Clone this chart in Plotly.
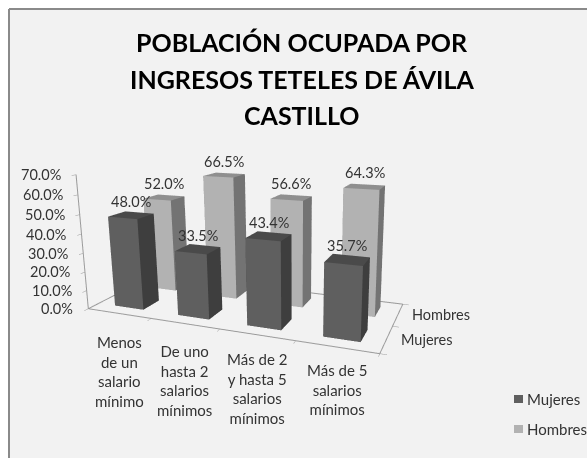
import plotly.graph_objects as go

categories = ["Menos<br>de un<br>salario<br>mínimo", "De uno<br>hasta 2<br>salarios<br>mínimos",
              "Más de 2<br>y hasta 5<br>salarios<br>mínimos", "Más de 5<br>salarios<br>mínimos"]
series_names = ["Mujeres", "Hombres"]
mujeres = [48.0, 33.5, 43.4, 35.7]
hombres = [52.0, 66.5, 56.6, 64.3]
z_ticks = [0, 10, 20, 30, 40, 50, 60, 70]
title_lines = ["POBLACIÓN OCUPADA POR", "INGRESOS TETELES DE ÁVILA", "CASTILLO"]

W, H = 587, 458
fig = go.Figure()

def box(xc, yc, h, w, colors):
    x0, x1, y0, y1 = xc - w / 2, xc + w / 2, yc - w / 2, yc + w / 2
    X = [x0, x1, x1, x0, x0, x1, x1, x0]
    Y = [y0, y0, y1, y1, y0, y0, y1, y1]
    Z = [0, 0, 0, 0, h, h, h, h]
    I = [0, 0, 1, 1, 4, 4, 3, 3, 0, 0, 2, 2]
    J = [1, 5, 2, 6, 5, 6, 2, 6, 3, 7, 3, 7]
    K = [5, 4, 6, 5, 6, 7, 6, 7, 7, 4, 7, 6]
    fc = [colors[0]] * 2 + [colors[1]] * 2 + [colors[2]] * 2 + [colors[1]] * 2 + [colors[1]] * 2 + [colors[0]] * 2
    fig.add_trace(go.Mesh3d(x=X, y=Y, z=Z, i=I, j=J, k=K, facecolor=fc, flatshading=True,
                            lighting=dict(ambient=1, diffuse=0, specular=0, roughness=1, fresnel=0),
                            hoverinfo="skip", showlegend=False, showscale=False))

cols = {"Mujeres": ("#5f5f5f", "#3e3e3e", "#4a4a4a"), "Hombres": ("#b2b2b2", "#737373", "#8f8f8f")}
for i, v in enumerate(mujeres):
    box(i + 0.5, 0.5, v, 0.46, cols["Mujeres"])
for i, v in enumerate(hombres):
    box(i + 0.5, 1.5, v, 0.46, cols["Hombres"])

fig.add_trace(go.Scatter3d(x=[0, 0, 4], y=[0, 2, 2], z=[0, 0, 0], mode="lines", line=dict(color="#9a9a9a", width=2),
                           hoverinfo="skip", showlegend=False))

txt = dict(size=14.5, color="#333")
cat_txt = dict(size=15, color="#333")
ann = []
for i, (m, h) in enumerate(zip(mujeres, hombres)):
    ann.append(dict(x=i + 0.5, y=0.5, z=m, text=f"{m:.1f}%", showarrow=False, yshift=14, font=txt))
    ann.append(dict(x=i + 0.5, y=1.5, z=h, text=f"{h:.1f}%", showarrow=False, yshift=14, font=txt))
cat_shift = [-18, -16, -13, -12]
for i, c in enumerate(categories):
    ann.append(dict(x=i + 0.5, y=0, z=0, text=c, showarrow=False, yanchor="top", yshift=cat_shift[i], font=cat_txt))
for i, s in enumerate(series_names):
    ann.append(dict(x=4, y=i + 0.5, z=0, text=s, showarrow=False, xanchor="left", xshift=12, font=txt))
for t in z_ticks:
    ann.append(dict(x=0, y=0, z=t, text=f"{t:.1f}%", showarrow=False, xanchor="right", xshift=-13, font=txt))

axis_common = dict(showgrid=False, showbackground=False, showline=True, linecolor="#9a9a9a", linewidth=2,
                   ticks="outside", tickcolor="#9a9a9a", zeroline=False, title=dict(text=""), showspikes=False,
                   showticklabels=False)
title_y = [42, 79, 115]
page_ann = [dict(x=302 / W, y=1 - yy / H, xref="paper", yref="paper", text=t, showarrow=False, xanchor="center", yanchor="middle",
                 font=dict(size=25, color="#000", family="Lato", weight="bold"))
            for t, yy in zip(title_lines, title_y)]
legend_y = [399, 429]
legend_cols = ["#5f5f5f", "#b2b2b2"]
fx0, fy0 = 9 / W, 1 - 9 / H
shapes = [dict(type="rect", xref="paper", yref="paper", x0=0, x1=1, y0=fy0, y1=1, fillcolor="#fff", line=dict(width=0)),
          dict(type="rect", xref="paper", yref="paper", x0=0, x1=fx0, y0=0, y1=1, fillcolor="#fff", line=dict(width=0)),
          dict(type="line", xref="paper", yref="paper", x0=fx0, x1=1, y0=fy0, y1=fy0, line=dict(color="#8a8a8a", width=2)),
          dict(type="line", xref="paper", yref="paper", x0=fx0, x1=fx0, y0=0, y1=fy0, line=dict(color="#8a8a8a", width=2))]
for s, yy, c in zip(series_names, legend_y, legend_cols):
    page_ann.append(dict(x=527 / W, y=1 - yy / H, xref="paper", yref="paper", text=s, showarrow=False,
                         xanchor="left", yanchor="middle", xshift=-2, font=dict(size=15, color="#333")))
    shapes.append(dict(type="rect", xref="paper", yref="paper", x0=514 / W, x1=523 / W, y0=1 - (yy + 4) / H, y1=1 - (yy - 4) / H,
                       fillcolor=c, line=dict(width=0)))

fig.update_layout(
    width=W, height=H, margin=dict(l=0, r=0, t=0, b=0), paper_bgcolor="#f2f2f2",
    font=dict(family="Lato", color="#333"), showlegend=False,
    scene=dict(
        domain=dict(x=[0, 1], y=[0, 1]),
        xaxis=dict(axis_common, range=[0, 4], tickvals=[0, 1, 2, 3, 4]),
        yaxis=dict(axis_common, range=[0, 2], tickvals=[0, 1, 2]),
        zaxis=dict(axis_common, range=[0, 70], tickvals=z_ticks),
        aspectmode="manual", aspectratio=dict(x=1.7931, y=0.7288, z=0.8217),
        camera=dict(eye=dict(x=1.358, y=-2.921, z=0.843), center=dict(x=0.251, y=0.145, z=0.068), up=dict(x=-0.0103, y=0.0149, z=1)),
        annotations=ann,
    ),
    annotations=page_ann,
    shapes=shapes,
)
fig.write_html("out.html", post_script="document.body.style.margin='0';", config=dict(displayModeBar=False))
